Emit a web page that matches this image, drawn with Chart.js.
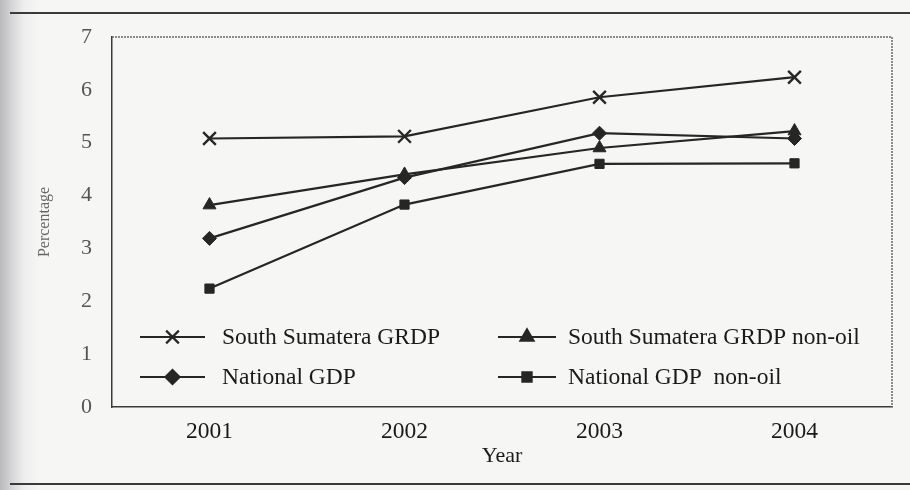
<!DOCTYPE html>
<html>
<head>
<meta charset="utf-8">
<script src="https://cdn.jsdelivr.net/npm/chart.js@4.4.1/dist/chart.umd.min.js"></script>
<style>
  html, body { margin: 0; padding: 0; }
  body {
    width: 910px; height: 490px; overflow: hidden;
    background: linear-gradient(to right, #b9b9bb 0px, #d6d6d8 12px, #eeeeee 24px, #f6f6f4 40px);
    position: relative;
  }
  .rule { position: absolute; left: 10px; right: 0; height: 2px; background: #3a3a3a; }
  #wrap { position: absolute; left: 0; top: 0; width: 910px; height: 490px; }
</style>
</head>
<body>
<div class="rule" style="top:12px"></div>
<div class="rule" style="top:483px"></div>
<div id="wrap"><canvas id="chart" width="910" height="490"></canvas></div>
<script>
const years = ['2001', '2002', '2003', '2004'];
const seriesNames = ['South Sumatera GRDP', 'South Sumatera GRDP non-oil', 'National GDP', 'National GDP  non-oil'];
const ssGrdp = [5.08, 5.12, 5.86, 6.24];
const ssGrdpNonOil = [3.82, 4.40, 4.90, 5.22];
const nationalGdp = [3.19, 4.34, 5.18, 5.08];
const nationalGdpNonOil = [2.24, 3.83, 4.60, 4.61];
const yTicks = [0, 1, 2, 3, 4, 5, 6, 7];

const ink = '#262626';
const serif = "'Liberation Serif', 'DejaVu Serif', serif";

function series(label, data, style, radius, pbw) {
  return {
    label: label,
    data: data,
    borderColor: ink,
    backgroundColor: ink,
    borderWidth: 2.2,
    pointStyle: style,
    pointRadius: radius,
    pointBorderWidth: pbw,
    pointBackgroundColor: ink,
    pointBorderColor: ink,
    tension: 0
  };
}

// legend slots inside the plot: [x of line start, y]
const legendSlots = [[140, 337], [498, 337], [140, 377], [498, 377]];

const boxLegend = {
  id: 'boxLegend',
  afterDraw(chart) {
    const ctx = chart.ctx;
    const a = chart.chartArea;
    ctx.save();
    // top and right frame
    ctx.strokeStyle = '#6a6a6a';
    ctx.lineWidth = 1.5;
    ctx.setLineDash([2, 1]);
    ctx.beginPath();
    ctx.moveTo(a.left, a.top);
    ctx.lineTo(a.right, a.top);
    ctx.lineTo(a.right, a.bottom);
    ctx.stroke();
    ctx.setLineDash([]);
    // legend
    ctx.font = '23.5px ' + serif;
    ctx.textBaseline = 'middle';
    chart.data.datasets.forEach((ds, i) => {
      const [x, y] = legendSlots[i];
      const len = i % 2 === 0 ? 65 : 58;
      ctx.strokeStyle = ink;
      ctx.fillStyle = ink;
      ctx.lineWidth = 2.2;
      ctx.beginPath();
      ctx.moveTo(x, y);
      ctx.lineTo(x + len, y);
      ctx.stroke();
      Chart.helpers.drawPoint(ctx, {
        pointStyle: ds.pointStyle,
        radius: ds.pointRadius,
        rotation: 0,
        borderWidth: ds.pointBorderWidth
      }, x + len / 2, y);
      ctx.fillStyle = '#1a1a1a';
      ctx.fillText(ds.label, x + len + (i % 2 === 0 ? 17 : 12), y + 1);
    });
    ctx.restore();
  }
};

new Chart(document.getElementById('chart'), {
  type: 'line',
  data: {
    labels: years,
    datasets: [
      series(seriesNames[0], ssGrdp, 'crossRot', 9, 2.4),
      series(seriesNames[1], ssGrdpNonOil, 'triangle', 7.5, 1),
      series(seriesNames[2], nationalGdp, 'rectRot', 7, 1),
      series(seriesNames[3], nationalGdpNonOil, 'rect', 6.5, 1)
    ]
  },
  options: {
    responsive: false,
    animation: false,
    layout: { padding: { left: 31, right: 18, top: 37, bottom: 17 } },
    plugins: { legend: { display: false }, tooltip: { enabled: false } },
    scales: {
      x: {
        offset: true,
        grid: { display: false, drawTicks: false },
        border: { display: true, color: '#3a3a3a', width: 1.5 },
        ticks: { color: '#1a1a1a', font: { family: serif, size: 23.5 }, padding: 11 },
        title: { display: true, text: 'Year', color: '#1a1a1a', font: { family: serif, size: 22 }, padding: { top: 2, bottom: 4 } },
        afterFit(s) { s.height = 66; }
      },
      y: {
        min: 0,
        max: 7,
        grid: { display: false, drawTicks: false },
        border: { display: true, color: '#3a3a3a', width: 1.5 },
        afterBuildTicks(s) { s.ticks = yTicks.map(v => ({ value: v })); },
        ticks: { color: '#555', font: { family: serif, size: 22 }, padding: 20 },
        title: { display: true, text: 'Percentage', color: '#666', font: { family: serif, size: 16 }, padding: { top: 4, bottom: 4 } },
        afterFit(s) { s.width = 81; }
      }
    }
  },
  plugins: [boxLegend]
});
</script>
</body>
</html>
